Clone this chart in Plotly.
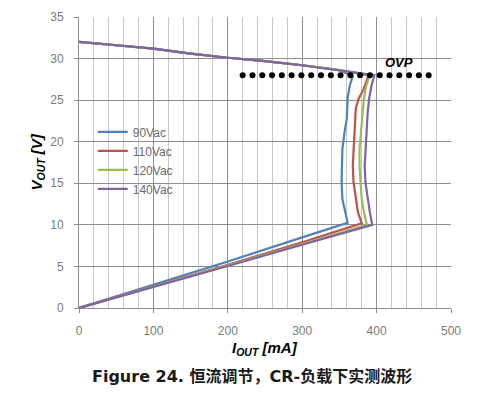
import numpy as np
import plotly.graph_objects as go

# ---- data ----
series_names = ["90Vac", "110Vac", "120Vac", "140Vac"]
series_colors = ["#4F81BD", "#C0504D", "#9BBB59", "#8064A2"]

i_90 = [0, 100, 200, 300, 361, 358, 354, 353, 353, 354, 357, 360, 361, 364, 368]
v_90 = [0, 2.8, 5.6, 8.5, 10.25, 11.5, 13.1, 15.1, 17.1, 19.1, 21.2, 22.8, 25.2, 26.8, 27.9]

i_110 = [0, 100, 200, 300, 380, 375, 372, 369, 368, 369, 370, 371, 372, 376, 382, 386, 389]
v_110 = [0, 2.6, 5.2, 7.9, 10.2, 11.5, 13.1, 15.1, 17.1, 19.1, 21.2, 22.8, 24.0, 25.2, 26.2, 27.2, 28.0]

i_120 = [0, 100, 200, 300, 387, 383, 380, 378, 377, 377, 379, 381, 383, 386, 391]
v_120 = [0, 2.55, 5.1, 7.7, 10.0, 11.5, 13.1, 15.1, 17.1, 19.1, 21.5, 23.5, 25.2, 26.7, 28.0]

i_140 = [0, 100, 200, 300, 394, 391, 388, 385, 384, 385, 386, 388, 390, 393, 397]
v_140 = [0, 2.5, 5.05, 7.6, 10.0, 11.5, 13.1, 15.1, 17.1, 19.1, 21.5, 23.5, 25.2, 26.7, 28.0]

# shared upper (open-load) branch
top_i = [350, 300, 250, 200, 150, 100, 50, 0]
top_v = [28.6, 29.2, 29.7, 30.1, 30.6, 31.2, 31.6, 32.0]

ovp_level = 28
ovp_start, ovp_end = 220, 470

x_ticks = [0, 100, 200, 300, 400, 500]
y_ticks = [0, 5, 10, 15, 20, 25, 30, 35]

series_i = [i_90, i_110, i_120, i_140]
series_v = [v_90, v_110, v_120, v_140]

fig = go.Figure()
for name, col, xi, yv in zip(series_names, series_colors, series_i, series_v):
    fig.add_trace(go.Scatter(
        x=xi + top_i, y=yv + top_v, mode="lines", name=name,
        line=dict(color=col, width=2.2),
    ))

# OVP dotted line
ovp_x = np.linspace(ovp_start, ovp_end, 20)
fig.add_trace(go.Scatter(
    x=ovp_x, y=[ovp_level] * len(ovp_x), mode="markers", showlegend=False,
    marker=dict(color="black", size=6), hoverinfo="skip",
))

tick_font = dict(family="Liberation Sans, Noto Sans CJK KR", size=12, color="#7a7a7a")
title_font = dict(family="Liberation Sans, Arial", size=15, color="#000000")

L, R, T, B = 79, 43, 17, 98
PW, PH = 494 - L - R, 406 - T - B

fig.update_layout(
    width=494, height=406,
    margin=dict(l=L, r=R, t=T, b=B, autoexpand=False),
    paper_bgcolor="white", plot_bgcolor="white",
    showlegend=True,
    legend=dict(
        x=0.037, y=0.655, xanchor="left", yanchor="top",
        bgcolor="rgba(0,0,0,0)", borderwidth=0,
        font=dict(family="Liberation Sans, Noto Sans CJK KR", size=12, color="#6a6a6a"),
        itemwidth=30, tracegroupgap=0,
    ),
    xaxis=dict(
        range=[0, 500], tickvals=x_ticks, ticktext=[str(t) for t in x_ticks],
        showgrid=True, gridcolor="#8e8e8e", gridwidth=1,
        minor=dict(dtick=20, showgrid=True, gridcolor="#c8c8c8", gridwidth=1),
        showline=True, linecolor="#8e8e8e", linewidth=1,
        ticks="outside", ticklen=4, tickcolor="#8e8e8e",
        tickfont=tick_font, ticklabelstandoff=8,
        zeroline=False, automargin=False,
    ),
    yaxis=dict(
        range=[0, 35], tickvals=y_ticks, ticktext=[str(t) for t in y_ticks],
        showgrid=True, gridcolor="#8e8e8e", gridwidth=1,
        showline=True, linecolor="#8e8e8e", linewidth=1,
        ticks="outside", ticklen=4, tickcolor="#8e8e8e",
        tickfont=tick_font, ticklabelstandoff=8,
        zeroline=False, automargin=False,
    ),
    annotations=[
        dict(x=430, y=29.5, xref="x", yref="y", text="<b><i>OVP</i></b>",
             showarrow=False, font=dict(family="Liberation Sans, Arial", size=13, color="black")),
        # x-axis title
        dict(x=0.5, y=-(348 - 308) / PH, xref="paper", yref="paper",
             xanchor="center", yanchor="middle", showarrow=False,
             text="<b><i>I<sub>OUT</sub> [mA]</i></b>", font=title_font),
        # y-axis title
        dict(x=-(79 - 37) / PW, y=0.5, xref="paper", yref="paper",
             xanchor="center", yanchor="middle", showarrow=False, textangle=-90,
             text="<b><i>V<sub>OUT</sub> [V]</i></b>", font=title_font),
        # caption
        dict(x=(90 - 79) / PW, y=-(376 - 308) / PH, xref="paper", yref="paper",
             xanchor="left", yanchor="middle", showarrow=False,
             text="<b>Figure 24. 恒流调节，CR-负载下实测波形</b>",
             font=dict(family="DejaVu Sans, Noto Sans CJK SC", size=16, color="#1a1a1a")),
    ],
)

fig.write_html("out.html", config={"displayModeBar": False},
               post_script="document.body.style.margin='0';")
